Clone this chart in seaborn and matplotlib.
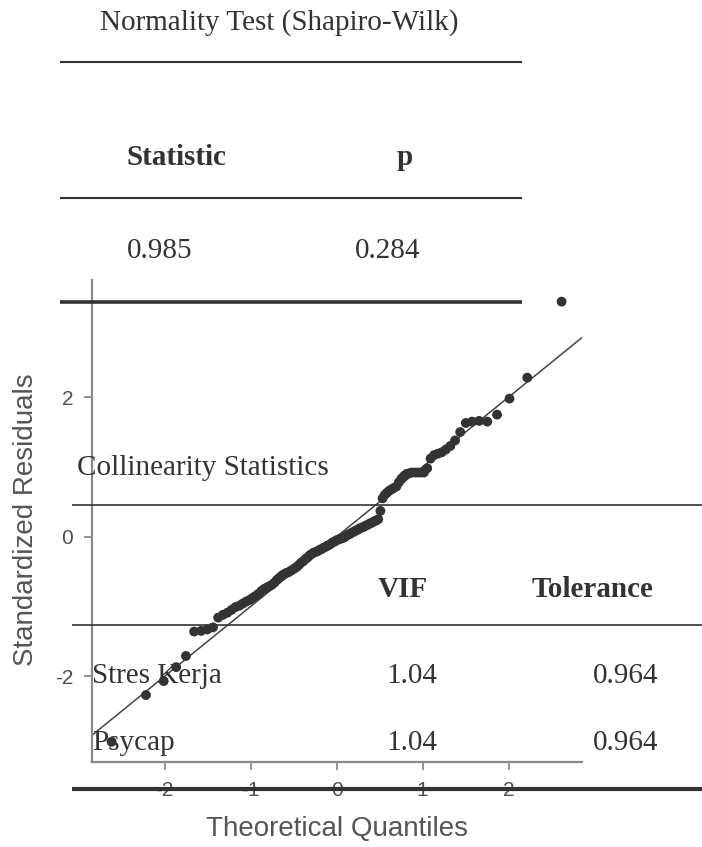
import matplotlib
matplotlib.use("Agg")
import matplotlib.pyplot as plt
import seaborn as sns
import pandas as pd
from statistics import NormalDist

# Sorted standardized residuals of the regression model (n = 113)
residuals = [
    -2.94, -2.27, -2.07, -1.87, -1.71, -1.36, -1.35, -1.33, -1.30, -1.16,
    -1.12, -1.09, -1.05, -1.01, -0.99, -0.96, -0.93, -0.91, -0.88, -0.85,
    -0.82, -0.78, -0.75, -0.73, -0.71, -0.69, -0.66, -0.62, -0.59, -0.56,
    -0.54, -0.52, -0.51, -0.49, -0.47, -0.45, -0.43, -0.40, -0.37, -0.35,
    -0.32, -0.30, -0.27, -0.25, -0.23, -0.22, -0.21, -0.19, -0.18, -0.16,
    -0.15, -0.13, -0.12, -0.10, -0.08, -0.07, -0.05, -0.04, -0.03, -0.02,
    -0.01, 0.01, 0.03, 0.04, 0.06, 0.07, 0.09, 0.10, 0.12, 0.13,
    0.14, 0.16, 0.17, 0.19, 0.20, 0.22, 0.23, 0.25, 0.37, 0.55,
    0.60, 0.63, 0.66, 0.68, 0.70, 0.72, 0.78, 0.83, 0.87, 0.90,
    0.91, 0.92, 0.92, 0.92, 0.92, 0.92, 0.98, 1.12, 1.17, 1.19,
    1.21, 1.25, 1.30, 1.38, 1.50, 1.63, 1.65, 1.66, 1.65, 1.75,
    1.98, 2.28, 3.37,
]

x_ticks = [-2, -1, 0, 1, 2]
y_ticks = [-2, 0, 2]

# Shapiro-Wilk table
normality_title = "Normality Test (Shapiro-Wilk)"
normality_header = ["Statistic", "p"]
normality_values = ["0.985", "0.284"]

# Collinearity table
collinearity_title = "Collinearity Statistics"
collinearity_header = ["VIF", "Tolerance"]
predictors = ["Stres Kerja", "Psycap"]
vif_values = ["1.04", "1.04"]
tolerance_values = ["0.964", "0.964"]

# Theoretical normal quantiles for the ranked residuals
n = len(residuals)
theoretical = [NormalDist().inv_cdf((i + 0.5) / n) for i in range(n)]
df = pd.DataFrame({"theoretical": theoretical, "residual": residuals})

sns.set_theme(style="ticks")
plt.rcParams["font.family"] = ["Liberation Sans", "DejaVu Sans"]
plt.rcParams["axes.unicode_minus"] = False

W, H = 702, 847
fig = plt.figure(figsize=(W / 100, H / 100), dpi=100)
fig.patch.set_facecolor("white")

# Q-Q plot axes
ax = fig.add_axes([92 / W, 1 - 762 / H, 490 / W, 482 / H])
ax.set_facecolor("white")
sns.scatterplot(data=df, x="theoretical", y="residual", ax=ax, s=50,
                color="#333333", edgecolor="none", linewidth=0, zorder=3)
ax.axline((0, 0), slope=1, color="#444444", lw=1.1, zorder=2)
ax.set_xlim(-2.846, 2.855)
ax.set_ylim(-3.23, 3.68)
ax.set_xticks(x_ticks)
ax.set_yticks(y_ticks)
sns.despine(ax=ax)
for side in ("left", "bottom"):
    ax.spines[side].set_color("#8a8a8a")
    ax.spines[side].set_linewidth(1.6)
ax.tick_params(colors="#8a8a8a", labelcolor="#505050", length=5.5, width=1.3,
               labelsize=15, pad=8)
ax.set_xlabel("Theoretical Quantiles", fontsize=20, color="#555555")
ax.set_ylabel("Standardized Residuals", fontsize=20, color="#555555")
ax.xaxis.set_label_coords(0.5, -0.112)
ax.yaxis.set_label_coords(-0.108, 0.502)

# Table overlay in pixel coordinates
tab = fig.add_axes([0, 0, 1, 1], facecolor="none", zorder=5)
tab.set_xlim(0, W)
tab.set_ylim(H, 0)
tab.axis("off")

serif = ["Liberation Serif", "DejaVu Serif"]
tcol = "#333333"
fs = 21


def rule(y, x0, x1, lw):
    tab.plot([x0, x1], [y, y], color=tcol, lw=lw, solid_capstyle="butt")


def cell(x, y, s, ha="center", bold=False):
    tab.text(x, y, s, ha=ha, va="baseline", fontsize=fs, color=tcol,
             family=serif, fontweight="bold" if bold else "normal")


cell(100, 30, normality_title, ha="left")
rule(62, 60, 522, 1.5)
cell(176, 165, normality_header[0], bold=True)
cell(405, 165, normality_header[1], bold=True)
rule(198, 60, 522, 1.5)
cell(160, 258, normality_values[0])
cell(388, 258, normality_values[1])
rule(302, 60, 522, 2.6)

cell(77, 475, collinearity_title, ha="left")
rule(505, 72, 702, 1.2)
cell(403, 597, collinearity_header[0], bold=True)
cell(592, 597, collinearity_header[1], bold=True)
rule(625, 72, 702, 1.2)
for row, (name, v, t) in enumerate(zip(predictors, vif_values, tolerance_values)):
    yb = 683 + row * 67
    cell(92, yb, name, ha="left")
    cell(437, yb, v, ha="right")
    cell(658, yb, t, ha="right")
rule(789, 72, 702, 3.0)

fig.savefig("out.png", dpi=100, facecolor="white")
